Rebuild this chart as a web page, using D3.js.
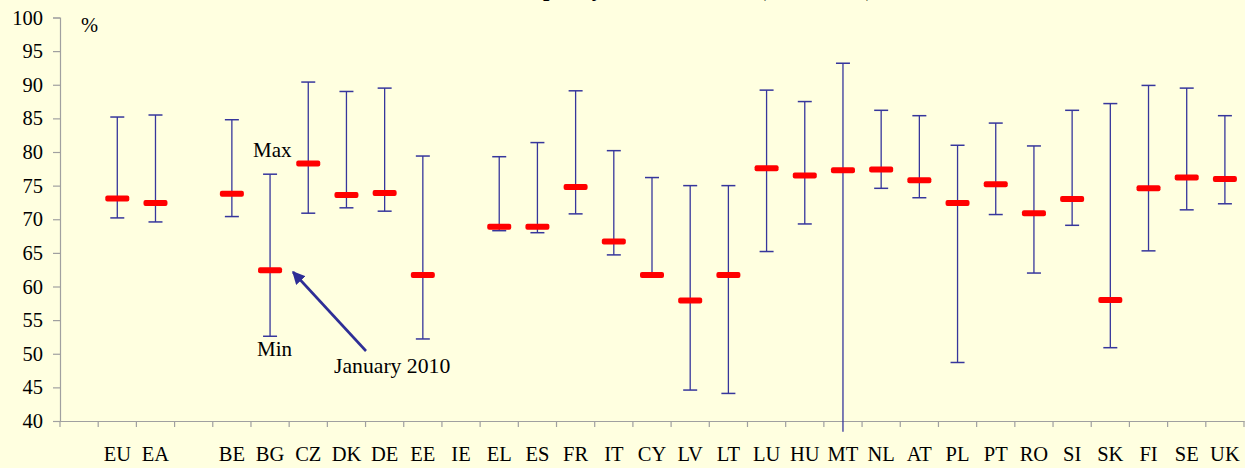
<!DOCTYPE html>
<html>
<head>
<meta charset="utf-8">
<script src="https://cdn.jsdelivr.net/npm/d3@7"></script>
<style>
  body { margin: 0; background: #ffffff; }
  text { font-family: "Liberation Serif", "Times New Roman", serif; fill: #000; }
</style>
</head>
<body>
<div class="chart"></div>
<script>
// data: blank strings keep the empty slots in the band scale
var countries = ["", "EU", "EA", " ", "BE", "BG", "CZ", "DK", "DE", "EE", "IE", "EL", "ES", "FR", "IT",
  "CY", "LV", "LT", "LU", "HU", "MT", "NL", "AT", "PL", "PT", "RO", "SI", "SK", "FI", "SE", "UK"];
var maxValues = [null, 85.2, 85.5, null, 84.8, 76.7, 90.4, 89.0, 89.5, 79.4, null, 79.3, 81.4, 89.1, 80.2,
  76.2, 75.0, 75.0, 89.2, 87.5, 93.2, 86.2, 85.4, 81.0, 84.3, 80.9, 86.2, 87.2, 89.9, 89.5, 85.4];
var minValues = [null, 70.2, 69.6, null, 70.4, 52.6, 70.9, 71.7, 71.2, 52.2, null, 68.3, 68.0, 70.8, 64.7,
  61.6, 44.6, 44.1, 65.2, 69.3, 38.4, 74.6, 73.2, 48.7, 70.7, 62.0, 69.1, 50.9, 65.3, 71.4, 72.3];
var jan2010 = [null, 73.1, 72.4, null, 73.8, 62.4, 78.3, 73.6, 73.9, 61.7, null, 68.9, 68.9, 74.8, 66.7,
  61.7, 57.9, 61.7, 77.6, 76.5, 77.3, 77.4, 75.8, 72.4, 75.2, 70.9, 73.0, 58.0, 74.6, 76.2, 76.0];
var yTicks = [40, 45, 50, 55, 60, 65, 70, 75, 80, 85, 90, 95, 100];

var data = countries.map(function(c, i) {
  return {country: c, max: maxValues[i], min: minValues[i], jan: jan2010[i]};
});

// dimensions
var margin = {top: 17.5, right: 8, bottom: 47, left: 60};
var width = 1252 - margin.left - margin.right;
var height = 468 - margin.top - margin.bottom;
var serif = '"Liberation Serif", "Times New Roman", serif';

var x = d3.scaleBand()
  .domain(countries)
  .range([0, width])
  .padding(0);
var y = d3.scaleLinear()
  .domain([40, 100])
  .range([height, 0]);

var svg = d3.select(".chart")
  .append("svg")
  .attr("width", 1252)
  .attr("height", 468);

// background
svg.append("rect")
  .attr("width", 1245)
  .attr("height", 468)
  .attr("fill", "#ffffe0");

// title (mostly cut off at the top, as in the original)
svg.append("text")
  .attr("x", 515)
  .attr("y", -4)
  .style("font-size", "23px")
  .style("font-weight", "bold")
  .text("Capacity utilisation rate (2000-2010)");

var chart = svg.append("g")
  .attr("transform", "translate(" + margin.left + "," + margin.top + ")");

// y axis
var yAxis = chart.append("g")
  .call(d3.axisLeft(y).tickValues(yTicks).tickSize(7).tickPadding(10));
yAxis.attr("font-family", serif);
yAxis.selectAll("text").style("font-size", "20.5px").style("font-family", serif);

// x axis: labels centred, ticks on band edges
var xAxis = chart.append("g")
  .attr("transform", "translate(0," + height + ")")
  .call(d3.axisBottom(x).tickSize(0).tickPadding(25));
xAxis.attr("font-family", serif);
xAxis.selectAll("text").style("font-size", "20.5px").style("font-family", serif);

chart.append("g")
  .selectAll("line")
  .data(countries.concat(["end"]))
  .enter()
  .append("line")
  .attr("class", "xtick")
  .attr("x1", function(d, i) { return i < countries.length ? x(d) : width; })
  .attr("x2", function(d, i) { return i < countries.length ? x(d) : width; })
  .attr("y1", height)
  .attr("y2", height + 6);

svg.selectAll(".domain, .tick line, .xtick")
  .attr("stroke", "#a0a0a0")
  .attr("stroke-width", 1.2);

var bars = data.filter(function(d) { return d.max != null; });
var cx = function(d) { return x(d.country) + x.bandwidth() / 2; };

// min-max bars
chart.selectAll(".range")
  .data(bars)
  .enter()
  .append("line")
  .attr("class", "range")
  .attr("x1", cx)
  .attr("x2", cx)
  .attr("y1", function(d) { return y(d.max); })
  .attr("y2", function(d) { return y(d.min); })
  .attr("stroke", "#36369c")
  .attr("stroke-width", 1.3);

// caps
var caps = [];
bars.forEach(function(d) {
  caps.push({country: d.country, v: d.max});
  if (d.min >= 40) caps.push({country: d.country, v: d.min});
});
chart.selectAll(".cap")
  .data(caps)
  .enter()
  .append("line")
  .attr("class", "cap")
  .attr("x1", function(d) { return cx(d) - 7; })
  .attr("x2", function(d) { return cx(d) + 7; })
  .attr("y1", function(d) { return y(d.v); })
  .attr("y2", function(d) { return y(d.v); })
  .attr("stroke", "#36369c")
  .attr("stroke-width", 1.5);

// January 2010 markers
chart.selectAll(".jan")
  .data(bars)
  .enter()
  .append("rect")
  .attr("class", "jan")
  .attr("x", function(d) { return cx(d) - 12; })
  .attr("y", function(d) { return y(d.jan) - 3; })
  .attr("width", 24)
  .attr("height", 6)
  .attr("rx", 2)
  .attr("fill", "#ff0000");

// annotations
svg.append("text").attr("x", 81).attr("y", 32).style("font-size", "20.5px").text("%");
svg.append("text").attr("x", 253).attr("y", 157).style("font-size", "21px").text("Max");
svg.append("text").attr("x", 257).attr("y", 356).style("font-size", "21px").text("Min");
svg.append("text").attr("x", 334).attr("y", 373).style("font-size", "21.7px").text("January 2010");

svg.append("defs").append("marker")
  .attr("id", "head")
  .attr("viewBox", "0 0 10 10")
  .attr("refX", 9)
  .attr("refY", 5)
  .attr("markerWidth", 5)
  .attr("markerHeight", 5)
  .attr("orient", "auto")
  .append("path")
  .attr("d", "M0,0L10,5L0,10Z")
  .attr("fill", "#2e2e96");

svg.append("line")
  .attr("x1", 366)
  .attr("y1", 351)
  .attr("x2", 293)
  .attr("y2", 272)
  .attr("stroke", "#2e2e96")
  .attr("stroke-width", 2.6)
  .attr("marker-end", "url(#head)");
</script>
</body>
</html>
